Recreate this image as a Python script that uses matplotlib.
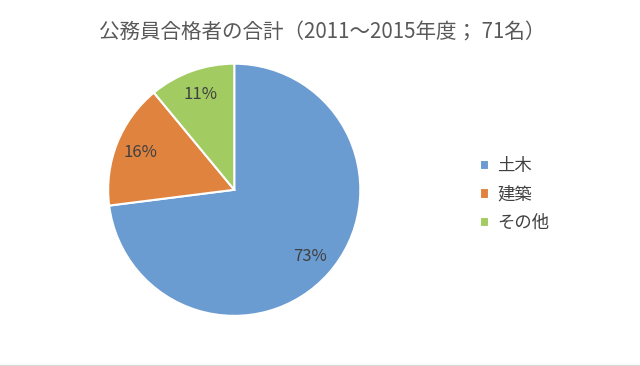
import numpy as np
import matplotlib
matplotlib.use("Agg")
import matplotlib.pyplot as plt

plt.rcParams['font.family'] = ['Noto Sans CJK JP', 'DejaVu Sans']

title = "公務員合格者の合計（2011～2015年度； 71名）"
categories = ["土木", "建築", "その他"]
shares = [73, 16, 11]
colors = ["#6A9BD1", "#E0833F", "#A2CC62"]
label_dist = [0.8, 0.8, 0.8]


def main():
    fig = plt.figure(figsize=(6.4, 3.66), dpi=100)
    ax = fig.add_axes([0.169, 0.137, 0.394, 0.689])

    wedges, _ = ax.pie(shares, colors=colors, startangle=90, counterclock=False,
                       wedgeprops=dict(edgecolor="white", linewidth=1.5))
    ax.set_xlim(-1.0, 1.0)
    ax.set_ylim(-1.0, 1.0)
    ax.set_aspect("equal")

    for w, v, d in zip(wedges, shares, label_dist):
        mid = np.deg2rad((w.theta1 + w.theta2) / 2)
        ax.text(d * np.cos(mid), d * np.sin(mid), f"{v}%", ha="center", va="center",
                fontsize=12, color="#404040")

    fig.text(0.503, 0.912, title, ha="center", va="center", fontsize=14.8, color="#595959")

    fig.legend(wedges, categories, loc="center left", bbox_to_anchor=(0.725, 0.468),
               frameon=False, fontsize=12.5, handlelength=0.55, handleheight=0.55,
               handletextpad=0.45, labelspacing=0.6, labelcolor="#404040")

    fig.add_artist(plt.Line2D([0, 1], [0.002, 0.002], color="#d9d9d9", lw=1))
    fig.savefig("out.png", dpi=100, facecolor="white")


if __name__ == "__main__":
    main()
